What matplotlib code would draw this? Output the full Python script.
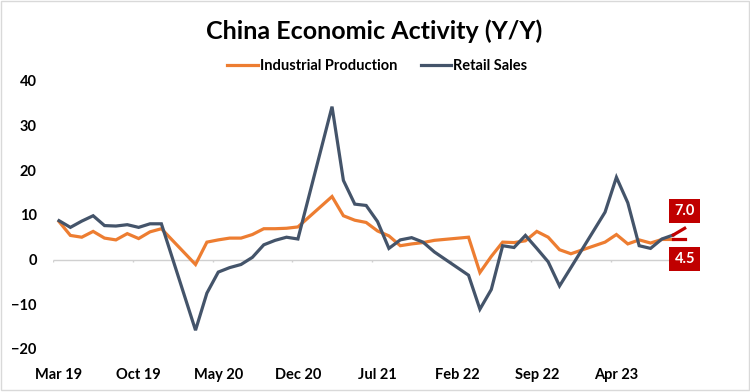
import numpy as np
import pandas as pd
import matplotlib.pyplot as plt
from matplotlib.patches import Rectangle

plt.rcParams['font.family'] = ['Lato', 'DejaVu Sans']

# monthly index Mar 19 .. Oct 23 (Jan/Feb not published -> NaN)
months = pd.date_range("2019-03-01", "2023-10-01", freq="MS")
nan = np.nan

ip_vals = [
    8.5, 5.4, 5.0, 6.3, 4.8, 4.4, 5.8, 4.7, 6.2, 6.9,          # 2019
    nan, nan, -1.1, 3.9, 4.4, 4.8, 4.8, 5.6, 6.9, 6.9, 7.0, 7.3,  # 2020
    nan, nan, 14.1, 9.8, 8.8, 8.3, 6.4, 5.3, 3.1, 3.5, 3.8, 4.3,  # 2021
    nan, nan, 5.0, -2.9, 0.7, 3.9, 3.8, 4.2, 6.3, 5.0, 2.2, 1.3,  # 2022
    nan, nan, 3.9, 5.6, 3.5, 4.4, 3.7, 4.5, 4.5,                 # 2023
]
retail_vals = [
    8.7, 7.2, 8.6, 9.8, 7.6, 7.5, 7.8, 7.2, 8.0, 8.0,
    nan, nan, -15.8, -7.5, -2.8, -1.8, -1.1, 0.5, 3.3, 4.3, 5.0, 4.6,
    nan, nan, 34.2, 17.7, 12.4, 12.1, 8.5, 2.5, 4.4, 4.9, 3.9, 1.7,
    nan, nan, -3.5, -11.1, -6.7, 3.1, 2.7, 5.4, 2.5, -0.5, -5.9, -1.8,
    nan, nan, 10.6, 18.4, 12.7, 3.1, 2.5, 4.6, 5.5,
]
# forecast for Oct 23
ip_fcst = 4.5
retail_fcst = 7.0

tick_labels = ["Mar 19", "Oct 19", "May 20", "Dec 20", "Jul 21", "Feb 22", "Sep 22", "Apr 23"]

ORANGE = "#ED7D31"
SLATE = "#44546A"
RED = "#C00000"

ip = pd.Series(ip_vals, index=np.arange(len(ip_vals)))
retail = pd.Series(retail_vals, index=np.arange(len(retail_vals)))
last = len(ip_vals) - 1
fc_x = last + 1

fig = plt.figure(figsize=(7.5, 3.92), dpi=100)
ax = fig.add_axes([0.0711, 0.1097, 0.8873, 0.6844])

# zero line and small category ticks
ax.hlines(0, -0.5, 53.6, color="#D0D0D0", lw=1, zorder=1)
for t in range(0, 54, 7):
    ax.vlines(t - 0.5, -0.6, 0, color="#D0D0D0", lw=1, zorder=1)

ipd = ip.dropna()
rsd = retail.dropna()
ax.plot(ipd.index, ipd.values, color=ORANGE, lw=2.3, label="Industrial Production", zorder=3,
        solid_joinstyle="miter")
ax.plot(rsd.index, rsd.values, color=SLATE, lw=2.3, label="Retail Sales", zorder=4,
        solid_joinstyle="miter")

# forecast segments
ax.plot([last, fc_x], [ip.iloc[-1], ip_fcst], color=RED, lw=2.3, zorder=5)
ax.plot([last, fc_x], [retail.iloc[-1], retail_fcst], color=RED, lw=2.3, zorder=5)

box = dict(boxstyle="square,pad=0.35", fc=RED, ec="none")
ax.annotate(f"{retail_fcst:.1f}", (fc_x, retail_fcst), xytext=(0, 12.5), textcoords="offset points",
            ha="center", va="center", color="white", fontsize=10.5, fontweight="bold", bbox=box,
            annotation_clip=False)
ax.annotate(f"{ip_fcst:.1f}", (fc_x, ip_fcst), xytext=(0, -14), textcoords="offset points",
            ha="center", va="center", color="white", fontsize=10.5, fontweight="bold", bbox=box,
            annotation_clip=False)

ax.set_xlim(-0.5, 58)
ax.set_ylim(-20, 40)
ax.set_yticks([-20, -10, 0, 10, 20, 30, 40])
ax.set_xticks(np.arange(0, 50, 7))
ax.set_xticklabels(tick_labels)
ax.tick_params(axis="both", length=0, labelsize=10.5)
ax.tick_params(axis="y", pad=12)
ax.tick_params(axis="x", pad=14)
for lbl in ax.get_xticklabels() + ax.get_yticklabels():
    lbl.set_fontweight("bold")
for s in ax.spines.values():
    s.set_visible(False)

fig.text(0.4987, 0.92, "China Economic Activity (Y/Y)", ha="center", va="center",
         fontsize=18, fontweight="bold")
leg = fig.legend(loc="center", bbox_to_anchor=(0.503, 0.832), ncol=2, frameon=False,
                 prop=dict(size=10.5, weight="bold"), handlelength=2.1, handletextpad=0.15,
                 columnspacing=1.6)

fig.patches.append(Rectangle((0.001, 0.004), 0.997, 0.994, transform=fig.transFigure,
                             fill=False, ec="#D9D9D9", lw=1))

fig.savefig("out.png", dpi=100)
